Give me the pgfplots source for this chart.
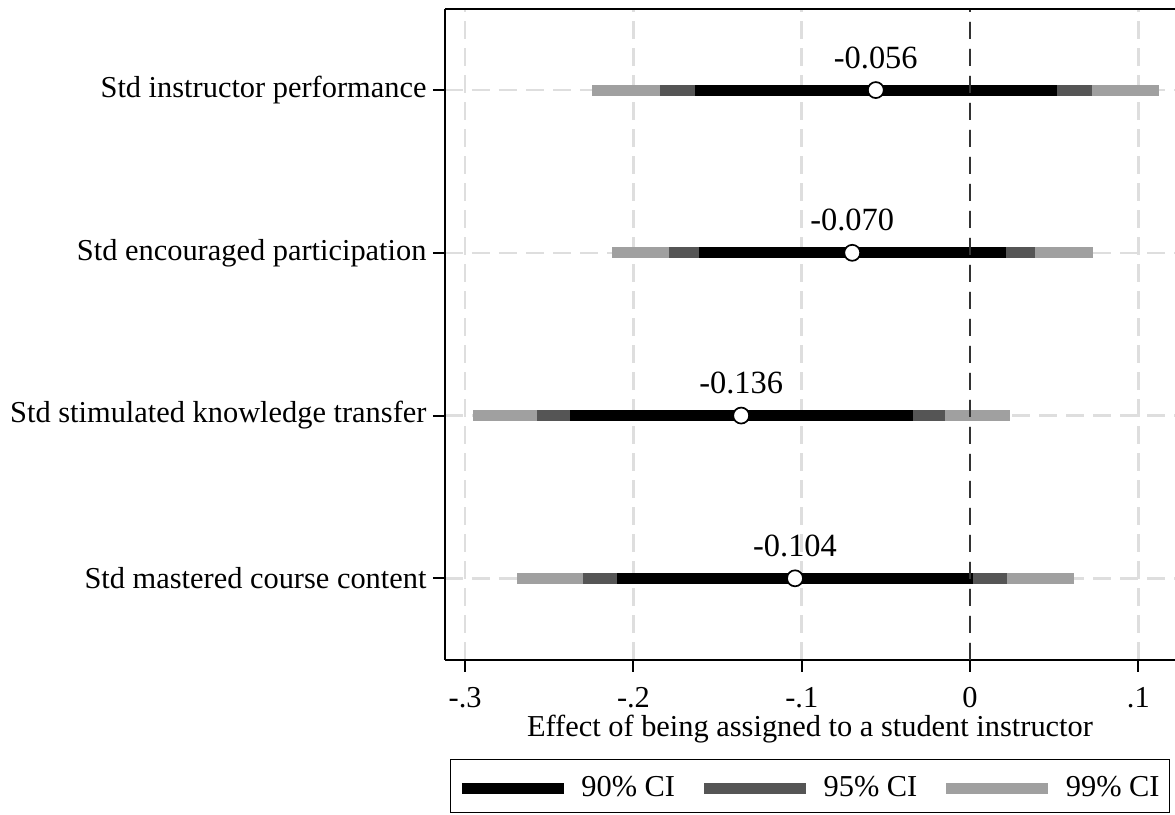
\documentclass[border=0pt]{standalone}
\usepackage{pgfplots}
\usepackage{pgfplotstable}
\pgfplotsset{compat=1.18}
\usepackage{fontspec}
\setmainfont{Liberation Serif}
\definecolor{c90}{RGB}{0,0,0}
\definecolor{c95}{RGB}{85,85,85}
\definecolor{c99}{RGB}{160,160,160}
\definecolor{gridc}{RGB}{222,222,222}
\pgfplotstableread{
y est hw90 hw95 hw99 lab
4 -0.056 0.1077 0.1283 0.1685 -0.056
3 -0.070 0.0913 0.1088 0.1430 -0.070
2 -0.136 0.1019 0.1213 0.1595 -0.136
1 -0.104 0.1057 0.1259 0.1655 -0.104
}\data
\begin{document}
\fontsize{15.2pt}{18pt}\selectfont
\begin{tikzpicture}
\begin{axis}[
  name=ax,
  scale only axis,
  width=365pt, height=325.5pt,
  xmin=-0.312, xmax=0.1218,
  ymin=0.5, ymax=4.5,
  axis x line*=bottom, axis y line*=left,
  axis line style={line width=1pt},
  xtick={-0.3,-0.2,-0.1,0,0.1},
  xticklabels={-.3,-.2,-.1,0,.1},
  ytick={1,2,3,4},
  yticklabels={Std mastered course content, Std stimulated knowledge transfer, Std encouraged participation, Std instructor performance},
  tick align=outside,
  major tick length=6pt,
  tick style={line width=1pt, black},
  xticklabel style={yshift=-2.5pt},
  yticklabel style={xshift=2pt},
  grid=major,
  major grid style={gridc, line width=1.3pt, dash pattern=on 9pt off 4.5pt},
  xlabel={Effect of being assigned to a student instructor},
  xlabel style={yshift=6.5pt},
  legend columns=3,
  legend image code/.code={\draw[#1] (0pt,-1pt) -- (51pt,-1pt);},
  legend style={at={(0.5,-0.1521)}, anchor=north, draw=black, line width=0.6pt,
    inner xsep=3pt, inner ysep=4pt,
    cells={inner sep=0pt, text height=12.5pt, text depth=12pt},
    /tikz/every odd column/.append style={column sep=4pt},
    /tikz/every even column/.append style={column sep=9.75pt}},
  clip=false,
]
\addplot[only marks, mark=none, forget plot,
  error bars/.cd, x dir=both, x explicit, error mark=none,
  error bar style={line width=5.5pt, color=c99}]
  table[x=est, y=y, x error=hw99] {\data};
\addplot[only marks, mark=none, forget plot,
  error bars/.cd, x dir=both, x explicit, error mark=none,
  error bar style={line width=5.5pt, color=c95}]
  table[x=est, y=y, x error=hw95] {\data};
\addplot[only marks, mark=none, forget plot,
  error bars/.cd, x dir=both, x explicit, error mark=none,
  error bar style={line width=5.5pt, color=c90}]
  table[x=est, y=y, x error=hw90] {\data};
\draw[black!80, line width=1.3pt, dash pattern=on 8.5pt off 5pt] (axis cs:0,0.5) -- (axis cs:0,4.5);
\addplot[only marks, mark=*, mark size=4pt, forget plot,
  mark options={fill=white, draw=black, line width=0.85pt},
  nodes near coords, point meta=explicit symbolic,
  every node near coord/.append style={anchor=base, yshift=11pt, inner sep=0pt, font=\fontsize{16.2pt}{19pt}\selectfont}]
  table[x=est, y=y, meta=lab] {\data};
\draw[line width=1pt] (rel axis cs:0,1) -- (rel axis cs:1,1);
\addlegendimage{line width=5.5pt, color=c90}
\addlegendentry{90\% CI}
\addlegendimage{line width=5.5pt, color=c95}
\addlegendentry{95\% CI}
\addlegendimage{line width=5.5pt, color=c99}
\addlegendentry{99\% CI}
\end{axis}
\pgfresetboundingbox
\path ([xshift=-222.5pt, yshift=-77.5pt]ax.south west) rectangle ([yshift=4.35pt]ax.north east);
\end{tikzpicture}
\end{document}
